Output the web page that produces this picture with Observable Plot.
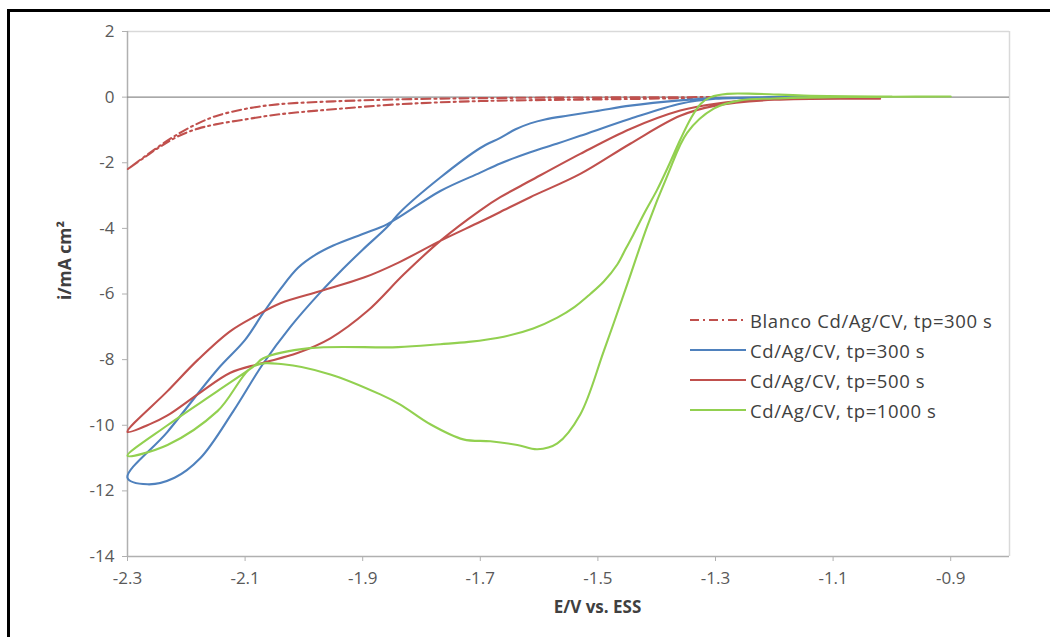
<!DOCTYPE html>
<html><head><meta charset="utf-8">
<script src="https://cdn.jsdelivr.net/npm/d3@7"></script>
<script src="https://cdn.jsdelivr.net/npm/@observablehq/plot@0.6"></script>
<style>
body{margin:0;background:#fff;font-family:"Open Sans",sans-serif;}
#wrap{position:relative;width:1050px;height:637px;overflow:hidden;}
#border{position:absolute;left:7px;top:9px;right:-10px;bottom:-10px;border-left:3px solid #000;border-top:3px solid #000;pointer-events:none;}
#legend{position:absolute;left:690px;top:305px;font-size:18.5px;letter-spacing:0.6px;color:#404040;font-family:"Open Sans",sans-serif;}
.row{display:flex;align-items:center;height:30px;white-space:nowrap;}
.row svg{margin-right:4px;}
</style></head>
<body><div id="wrap"><div id="chart"></div><div id="border"></div><div id="legend"></div></div>
<script>
// Axis ticks
const xTicks = [-2.3, -2.1, -1.9, -1.7, -1.5, -1.3, -1.1, -0.9];
const yTicks = [-14, -12, -10, -8, -6, -4, -2, 0, 2];

// Series names
const names = ["Blanco Cd/Ag/CV, tp=300 s", "Cd/Ag/CV, tp=300 s", "Cd/Ag/CV, tp=500 s", "Cd/Ag/CV, tp=1000 s"];
const colors = ["#c0504d", "#4f81bd", "#c0504d", "#92d050"];

// Blanco Cd/Ag/CV, tp=300 s  (E in V, i in mA cm^-2), traced along the loop
const blancoE = [-1.30,-1.50,-1.70,-1.84,-1.95,-2.045,-2.10,-2.15,-2.18,-2.21,-2.24,-2.27,-2.30,-2.27,-2.24,-2.21,-2.18,-2.15,-2.10,-2.045,-1.95,-1.84,-1.70,-1.50,-1.34];
const blancoI = [0.0,-0.01,-0.03,-0.07,-0.13,-0.22,-0.36,-0.58,-0.80,-1.08,-1.42,-1.80,-2.20,-1.82,-1.46,-1.16,-0.96,-0.83,-0.68,-0.53,-0.37,-0.22,-0.12,-0.07,-0.03];

// Cd/Ag/CV, tp=300 s
const blue300E = [-1.15,-1.20,-1.30,-1.36,-1.445,-1.53,-1.57,-1.615,-1.666,-1.70,-1.768,-1.858,-1.90,-1.95,-1.98,-2.01,-2.04,-2.07,-2.10,-2.147,-2.232,-2.30,-2.266,-2.22,-2.176,-2.12,-2.07,-2.023,-1.972,-1.94,-1.90,-1.858,-1.836,-1.768,-1.70,-1.666,-1.64,-1.615,-1.59,-1.55,-1.50,-1.445,-1.36,-1.30,-1.20,-1.12];
const blue300I = [0.0,-0.01,-0.05,-0.2,-0.66,-1.18,-1.42,-1.68,-2.02,-2.3,-2.86,-3.87,-4.17,-4.52,-4.8,-5.2,-5.85,-6.6,-7.4,-8.3,-10.2,-11.6,-11.8,-11.6,-11.0,-9.57,-8.14,-7.0,-5.95,-5.35,-4.65,-3.95,-3.5,-2.45,-1.55,-1.24,-0.98,-0.8,-0.68,-0.56,-0.42,-0.26,-0.1,-0.03,0.0,0.0];

// Cd/Ag/CV, tp=500 s
const red500E = [-1.02,-1.20,-1.30,-1.36,-1.445,-1.53,-1.615,-1.666,-1.70,-1.768,-1.84,-1.898,-1.97,-2.04,-2.08,-2.125,-2.18,-2.232,-2.30,-2.26,-2.232,-2.18,-2.125,-2.074,-2.011,-1.955,-1.892,-1.83,-1.768,-1.70,-1.666,-1.615,-1.53,-1.445,-1.36,-1.30,-1.20,-1.05];
const red500I = [-0.05,-0.08,-0.26,-0.57,-1.42,-2.34,-3.05,-3.5,-3.8,-4.38,-5.05,-5.5,-5.9,-6.28,-6.65,-7.13,-8.0,-8.96,-10.2,-9.95,-9.7,-9.05,-8.4,-8.12,-7.8,-7.35,-6.52,-5.4,-4.38,-3.45,-3.05,-2.55,-1.73,-0.97,-0.41,-0.2,-0.05,-0.04];

// Cd/Ag/CV, tp=1000 s
const green1000E = [-0.90,-1.00,-1.10,-1.20,-1.258,-1.303,-1.348,-1.382,-1.416,-1.45,-1.49,-1.53,-1.569,-1.603,-1.637,-1.683,-1.729,-1.785,-1.836,-1.87,-1.955,-2.035,-2.085,-2.147,-2.232,-2.30,-2.232,-2.147,-2.085,-2.069,-1.99,-1.84,-1.768,-1.72,-1.66,-1.61,-1.569,-1.54,-1.513,-1.49,-1.467,-1.452,-1.44,-1.42,-1.40,-1.38,-1.36,-1.342,-1.325,-1.308,-1.28,-1.23,-1.15,-1.00];
const green1000I = [0.02,0.01,0.0,-0.04,-0.1,-0.35,-1.08,-2.4,-3.93,-5.7,-7.74,-9.67,-10.55,-10.73,-10.6,-10.49,-10.43,-9.97,-9.37,-9.06,-8.45,-8.14,-8.2,-9.57,-10.6,-10.93,-10.0,-8.96,-8.2,-7.96,-7.65,-7.62,-7.53,-7.46,-7.3,-7.05,-6.72,-6.4,-6.0,-5.62,-5.1,-4.6,-4.2,-3.5,-2.85,-2.1,-1.3,-0.65,-0.2,0.0,0.1,0.1,0.05,0.02];

const seriesE = [blancoE, blue300E, red500E, green1000E];
const seriesI = [blancoI, blue300I, red500I, green1000I];
const dashes = ["9,4,2,4", null, null, null];

const tables = seriesE.map((Es, s) => Es.map((e, k) => ({series: names[s], E: e, I: seriesI[s][k]})));

const lineMarks = tables.map((t, s) => Plot.line(t, {
  x: "E", y: "I", stroke: colors[s], strokeWidth: 2.1,
  strokeDasharray: dashes[s] || undefined, curve: "catmull-rom"
}));

const chart = Plot.plot({
  width: 1050, height: 637,
  marginLeft: 127, marginRight: 41, marginTop: 31, marginBottom: 81,
  style: {fontFamily: "'Open Sans', sans-serif", fontSize: "17px", background: "transparent"},
  x: {domain: [-2.3, -0.8]},
  y: {domain: [-14, 2]},
  marks: [
    Plot.ruleY([2], {stroke: "#d9d9d9", strokeWidth: 1.5}),
    Plot.ruleX([-0.8], {stroke: "#d9d9d9", strokeWidth: 1.5}),
    Plot.ruleX([-2.3], {stroke: "#b0b0b0", strokeWidth: 1.5}),
    Plot.ruleY([-14], {stroke: "#b0b0b0", strokeWidth: 1.5}),
    Plot.axisY(yTicks, {tickSize: 5, tickPadding: 8, stroke: "#b0b0b0", fill: "#595959", fontSize: 17, tickFormat: d => String(d), label: null}),
    Plot.axisX(xTicks, {tickSize: 5, tickPadding: 10, stroke: "#b0b0b0", fill: "#595959", fontSize: 17, tickFormat: d => String(d), label: null}),
    Plot.ruleY([0], {stroke: "#8c8c8c", strokeWidth: 1.3}),
    ...lineMarks,
    Plot.text(["i/mA cm²"], {text: d => d, frameAnchor: "left", rotate: -90, dx: -62, dy: 6, fontWeight: "bold", fontSize: 17.5, fill: "#404040"}),
    Plot.text(["E/V vs. ESS"], {text: d => d, frameAnchor: "bottom", dx: 29, dy: 56, fontWeight: "bold", fontSize: 17, fill: "#404040"})
  ]
});
document.getElementById("chart").appendChild(chart);

// Legend (HTML overlay)
const legend = document.getElementById("legend");
names.forEach((n, s) => {
  const row = document.createElement("div");
  row.className = "row";
  row.innerHTML = `<svg width="56" height="10"><line x1="0" x2="56" y1="5" y2="5" stroke="${colors[s]}" stroke-width="2.1" ${dashes[s] ? `stroke-dasharray="${dashes[s]}"` : ""}/></svg><span>${n}</span>`;
  legend.appendChild(row);
});
</script>
</body></html>
